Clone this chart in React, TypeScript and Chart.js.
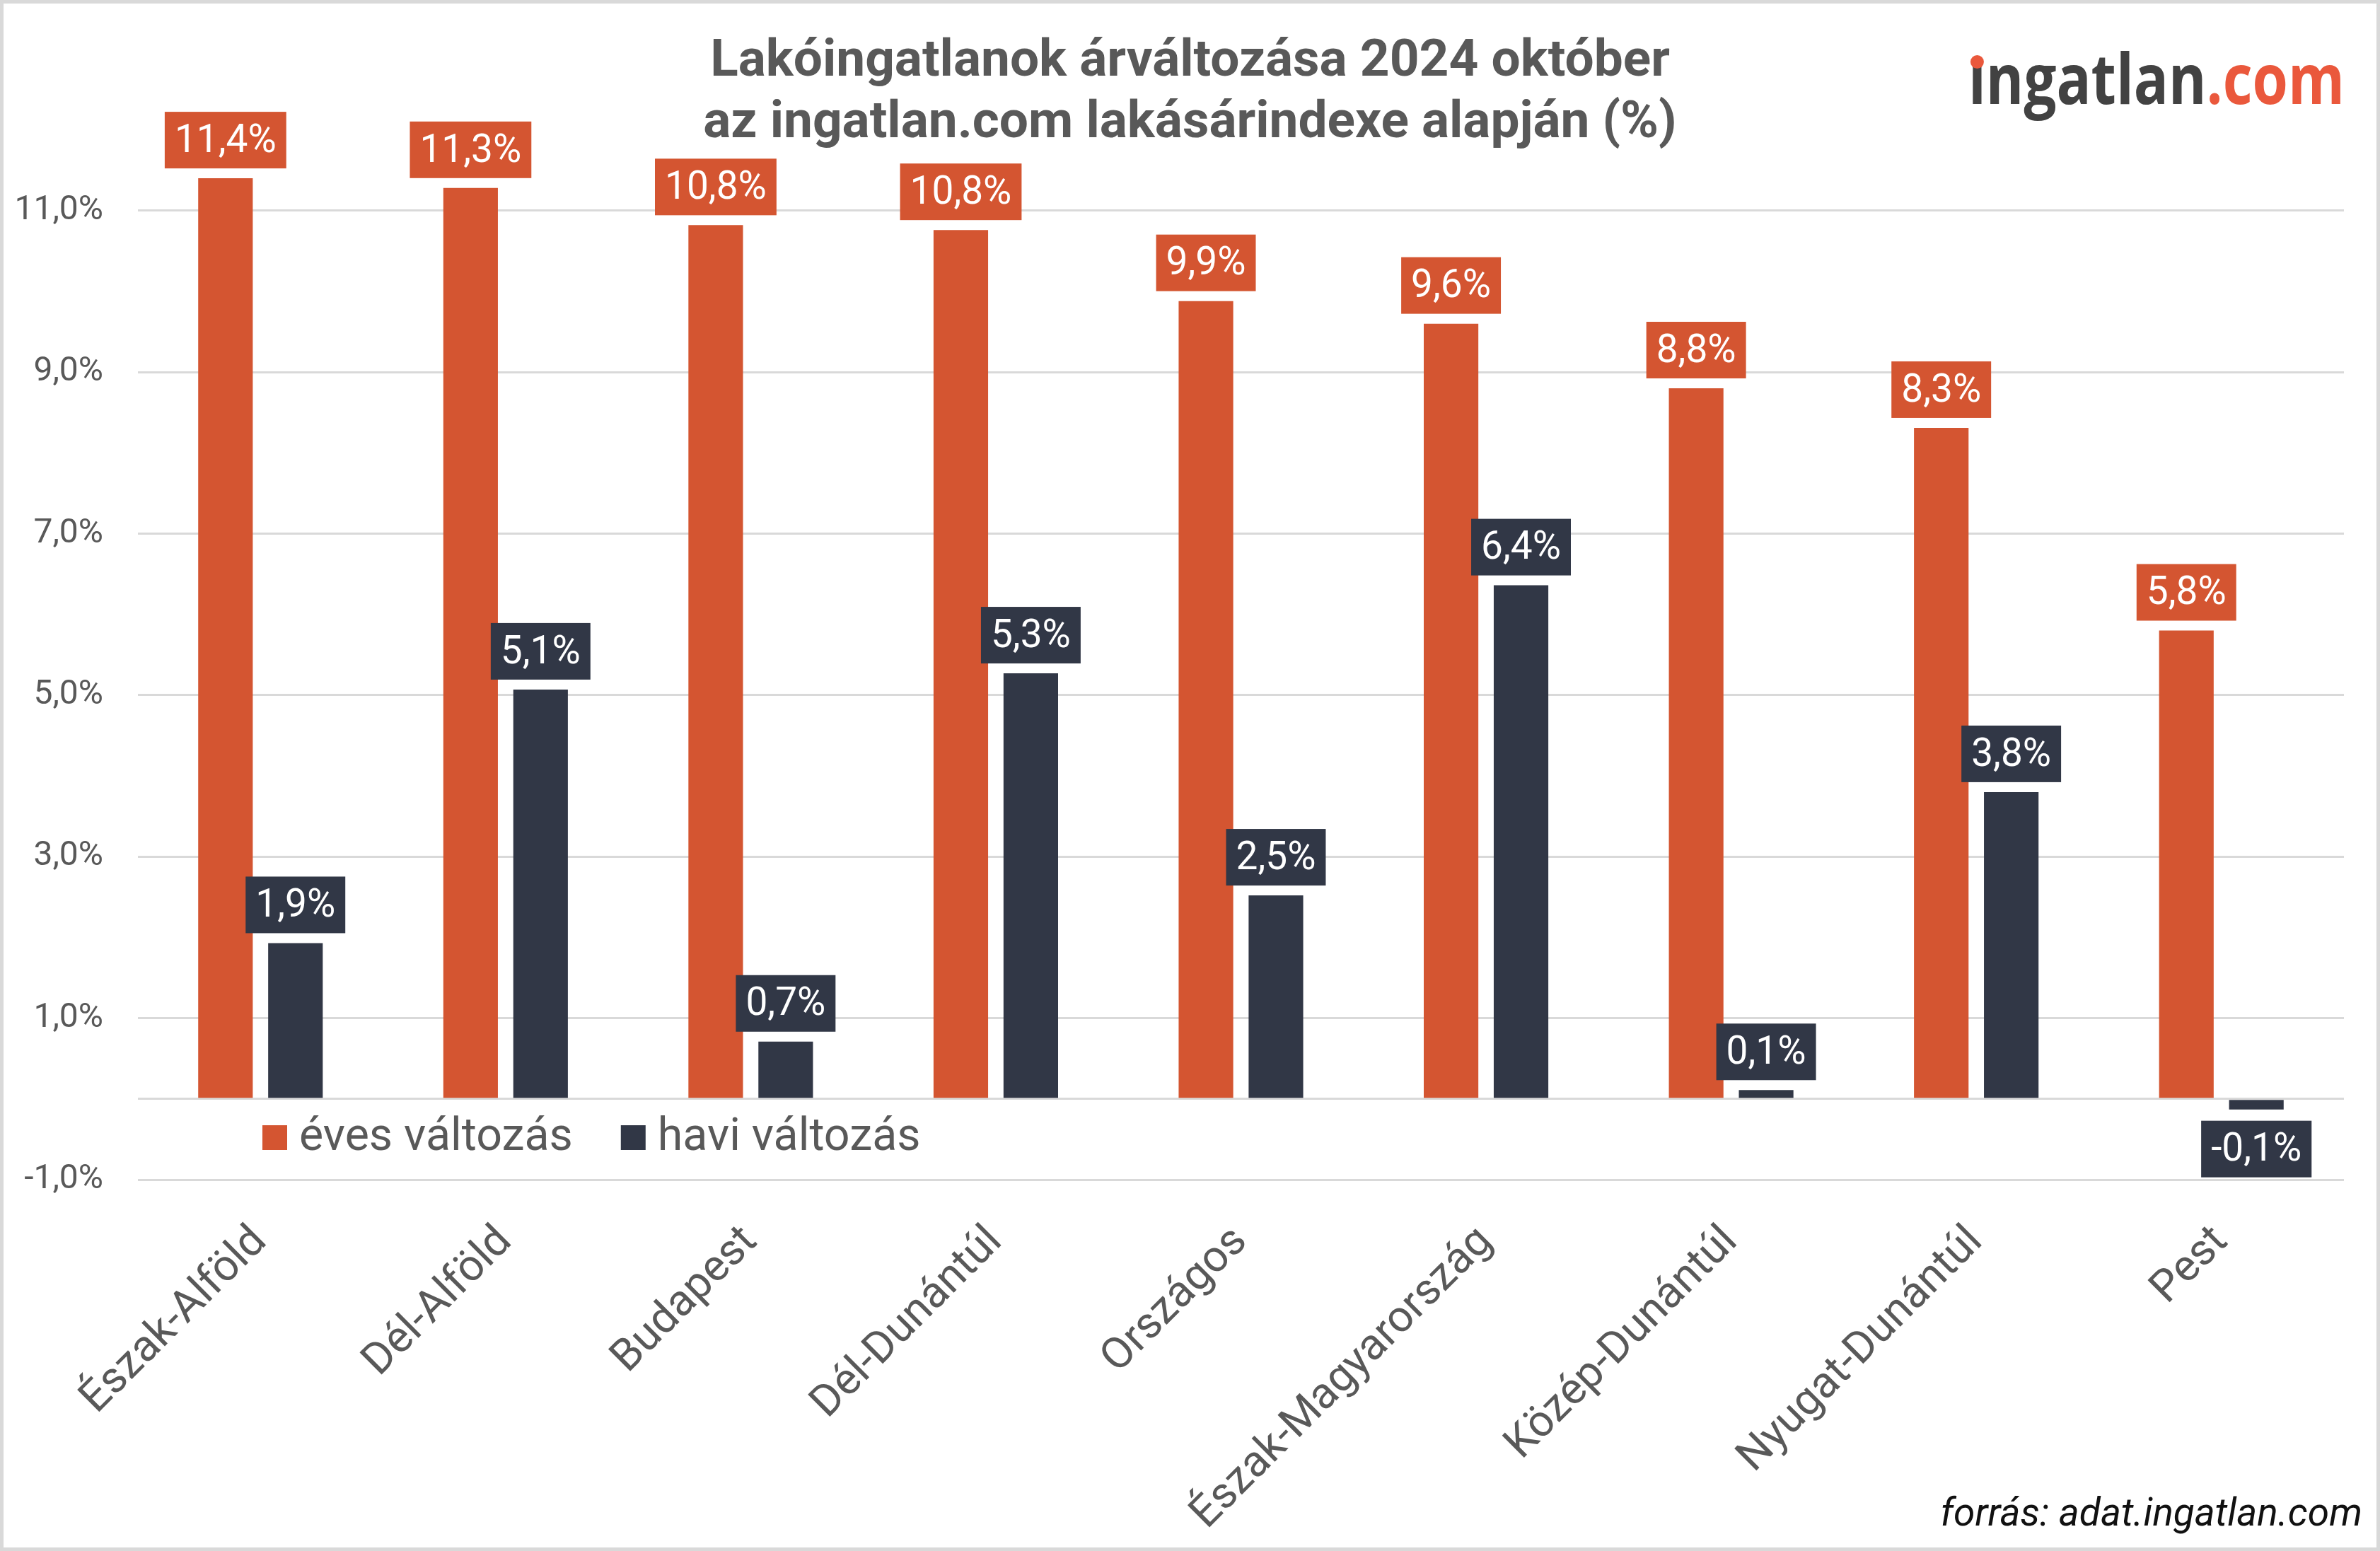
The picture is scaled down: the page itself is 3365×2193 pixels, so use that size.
import React, { useEffect, useRef } from 'react';
import { Chart, registerables } from 'chart.js';

Chart.register(...registerables);

const categories = [
  'Észak-Alföld',
  'Dél-Alföld',
  'Budapest',
  'Dél-Dunántúl',
  'Országos',
  'Észak-Magyarország',
  'Közép-Dunántúl',
  'Nyugat-Dunántúl',
  'Pest',
];
const annualChange = [11.4, 11.28, 10.82, 10.76, 9.88, 9.6, 8.8, 8.31, 5.8];
const monthlyChange = [1.93, 5.07, 0.71, 5.27, 2.52, 6.36, 0.11, 3.8, -0.13];
const seriesLabels = ['éves változás', 'havi változás'];
const seriesColors = ['#D45531', '#313746'];
const yTicks = [-1, 0, 1, 3, 5, 7, 9, 11];
const titleLines = [
  'Lakóingatlanok árváltozása 2024 október',
  'az ingatlan.com lakásárindexe alapján (%)',
];
const sourceText = 'forrás: adat.ingatlan.com';

const W = 3365;
const H = 2193;
const GRAY = '#595959';
const FONT = 'Roboto, "Noto Sans", sans-serif';

const fmt = (v: number) => v.toFixed(1).replace('.', ',') + '%';

const decorPlugin = {
  id: 'decor',
  beforeDraw(chart: any) {
    const { ctx } = chart;
    ctx.save();
    ctx.fillStyle = '#ffffff';
    ctx.fillRect(0, 0, chart.width, chart.height);
    ctx.restore();
  },
  afterDatasetsDraw(chart: any) {
    const { ctx } = chart;
    ctx.save();
    ctx.font = `55px ${FONT}`;
    ctx.textAlign = 'center';
    ctx.textBaseline = 'middle';
    chart.data.datasets.forEach((ds: any, di: number) => {
      const meta = chart.getDatasetMeta(di);
      meta.data.forEach((bar: any, i: number) => {
        const v = ds.data[i] as number;
        const { x, y } = bar.getProps(['x', 'y'], true);
        const txt = fmt(v);
        const tw = ctx.measureText(txt).width;
        const bw = tw + 28;
        const bh = 80;
        let top: number;
        if (v >= 0) top = y - 14 - bh;
        else top = y + 16;
        ctx.fillStyle = ds.backgroundColor;
        ctx.fillRect(x - bw / 2, top, bw, bh);
        ctx.fillStyle = '#ffffff';
        ctx.fillText(txt, x, top + bh / 2 + 3);
      });
    });
    ctx.restore();
  },
  afterDraw(chart: any) {
    const { ctx } = chart;
    ctx.save();
    // Title
    ctx.fillStyle = GRAY;
    ctx.font = `bold 73px ${FONT}`;
    ctx.textAlign = 'center';
    ctx.textBaseline = 'alphabetic';
    ctx.fillText(titleLines[0], W / 2, 107);
    ctx.fillText(titleLines[1], W / 2, 194);

    // Logo
    const logoLeft = 2783;
    const logoRight = 3315;
    const base = 147;
    ctx.font = `bold 99px "Open Sans", ${FONT}`;
    ctx.textAlign = 'left';
    const partA = '\u0131ngatlan';
    const partB = '.com';
    const wa = ctx.measureText(partA).width;
    const wb = ctx.measureText(partB).width;
    const sx = (logoRight - logoLeft) / (wa + wb);
    ctx.save();
    ctx.translate(logoLeft, base);
    ctx.scale(sx, 1);
    ctx.fillStyle = '#424242';
    ctx.fillText(partA, 0, 0);
    ctx.fillStyle = '#EA583C';
    ctx.fillText(partB, wa, 0);
    const wi = ctx.measureText('\u0131').width;
    ctx.restore();
    ctx.fillStyle = '#EA583C';
    ctx.beginPath();
    ctx.arc(logoLeft + (wi * sx) / 2, 87.5, 9.5, 0, Math.PI * 2);
    ctx.fill();

    // Legend
    ctx.font = `64.5px ${FONT}`;
    ctx.textBaseline = 'alphabetic';
    let lx = 371;
    seriesLabels.forEach((lab, i) => {
      ctx.fillStyle = seriesColors[i];
      ctx.fillRect(lx, 1591, 35, 35);
      ctx.fillStyle = GRAY;
      ctx.fillText(lab, lx + 52, 1626);
      lx = lx + 52 + ctx.measureText(lab).width + 68;
    });

    // Source
    ctx.font = `italic 55px ${FONT}`;
    ctx.fillStyle = '#111111';
    ctx.textAlign = 'right';
    ctx.fillText(sourceText, 3340, 2157);

    // Frame
    ctx.strokeStyle = '#d9d9d9';
    ctx.lineWidth = 5;
    ctx.strokeRect(2.5, 2.5, W - 5, H - 5);
    ctx.restore();
  },
};

export default function App() {
  const ref = useRef<HTMLCanvasElement | null>(null);

  useEffect(() => {
    document.body.style.margin = '0';
    const canvas = ref.current;
    if (!canvas) return;
    const chart = new Chart(canvas, {
      type: 'bar',
      data: {
        labels: categories,
        datasets: [
          {
            label: seriesLabels[0],
            data: annualChange,
            backgroundColor: seriesColors[0],
            categoryPercentage: 0.571,
            barPercentage: 0.78,
          },
          {
            label: seriesLabels[1],
            data: monthlyChange,
            backgroundColor: seriesColors[1],
            categoryPercentage: 0.571,
            barPercentage: 0.78,
          },
        ],
      },
      options: {
        responsive: false,
        animation: false,
        devicePixelRatio: 1,
        layout: { padding: { left: 0, right: 51, top: 183.6, bottom: 0 } },
        plugins: {
          legend: { display: false },
          title: { display: false },
          tooltip: { enabled: false },
        },
        scales: {
          x: {
            grid: { display: false, drawTicks: false },
            border: { display: false },
            ticks: {
              autoSkip: false,
              minRotation: 45,
              maxRotation: 45,
              padding: 52,
              color: GRAY,
              font: { family: FONT, size: 62 },
            },
            afterFit: (s: any) => {
              s.height = H - 1668;
            },
          },
          y: {
            min: -1,
            max: 12,
            grid: { color: '#d9d9d9', lineWidth: 3, drawTicks: false, tickLength: 0 },
            border: { display: false },
            afterBuildTicks: (s: any) => {
              s.ticks = yTicks.map((v) => ({ value: v }));
            },
            ticks: {
              padding: 49,
              color: GRAY,
              font: { family: FONT, size: 48 },
              callback: (v: any) => (Number(v) === 0 ? '' : fmt(Number(v))),
            },
            afterFit: (s: any) => {
              s.width = 195;
            },
          },
        },
      },
      plugins: [decorPlugin],
    });
    return () => chart.destroy();
  }, []);

  return (
    <div style={{ width: W, height: H }}>
      <canvas ref={ref} width={W} height={H} style={{ display: 'block', width: W, height: H }} />
    </div>
  );
}
